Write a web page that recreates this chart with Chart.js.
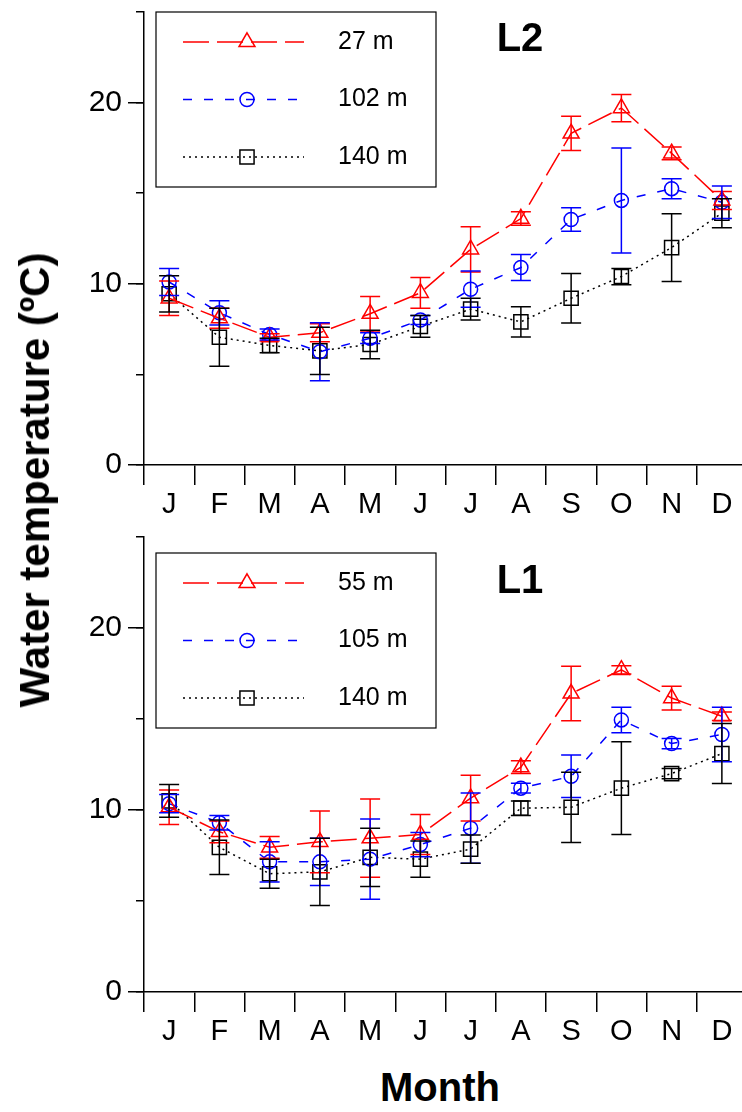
<!DOCTYPE html>
<html>
<head>
<meta charset="utf-8">
<title>Water temperature</title>
<script src="https://cdn.jsdelivr.net/npm/chart.js@4.4.1/dist/chart.umd.min.js"></script>
<style>
  html, body { margin: 0; padding: 0; background: #fff; overflow: hidden; }
  body { width: 742px; height: 1112px; position: relative; font-family: "Liberation Sans", Arial, sans-serif; }
  canvas { position: absolute; left: 0; }
  #chartL2 { top: 0; }
  #chartL1 { top: 525px; }
  .ytitle {
    position: absolute; left: 35px; top: 480px;
    transform: translate(-50%, -50%) rotate(-90deg);
    font-weight: bold; font-size: 42px; white-space: nowrap;
  }
  .xtitle {
    position: absolute; left: 440px; top: 1087px;
    transform: translate(-50%, -50%);
    font-weight: bold; font-size: 40px; white-space: nowrap;
  }
</style>
</head>
<body>
<canvas id="chartL2" width="760" height="530"></canvas>
<canvas id="chartL1" width="760" height="532"></canvas>
<div class="ytitle">Water temperature (ºC)</div>
<div class="xtitle">Month</div>

<script>
// months on the x axis
const months = ["J", "F", "M", "A", "M", "J", "J", "A", "S", "O", "N", "D"];

// station L2: monthly mean and standard deviation per depth (ºC)
const l2Depths = ["27 m", "102 m", "140 m"];
const l2Mean27 = [9.2, 8.1, 7.05, 7.3, 8.35, 9.5, 11.9, 13.6, 18.3, 19.7, 17.2, 14.6];
const l2Sd27 = [0.95, 0.55, 0.2, 0.5, 0.95, 0.85, 1.25, 0.37, 0.95, 0.75, 0.35, 0.5];
const l2Mean102 = [10.1, 8.4, 7.2, 6.25, 7.0, 8.0, 9.7, 10.9, 13.55, 14.6, 15.25, 14.5];
const l2Sd102 = [0.75, 0.67, 0.3, 1.6, 0.3, 0.25, 1.0, 0.72, 0.65, 2.9, 0.55, 0.9];
const l2Mean140 = [9.45, 7.05, 6.6, 6.3, 6.65, 7.65, 8.6, 7.9, 9.2, 10.4, 12.0, 13.9];
const l2Sd140 = [1.0, 1.6, 0.4, 1.3, 0.78, 0.6, 0.6, 0.83, 1.37, 0.45, 1.87, 0.8];

// station L1
const l1Depths = ["55 m", "105 m", "140 m"];
const l1Mean55 = [10.15, 8.8, 7.95, 8.25, 8.45, 8.65, 10.65, 12.35, 16.4, 17.7, 16.15, 15.15];
const l1Sd55 = [0.95, 0.6, 0.6, 1.7, 2.15, 1.1, 1.26, 0.35, 1.5, 0.23, 0.65, 0.23];
const l1Mean105 = [10.35, 9.3, 7.15, 7.15, 7.3, 8.1, 9.0, 11.2, 11.85, 14.95, 13.65, 14.15];
const l1Sd105 = [0.5, 0.4, 1.1, 1.3, 2.2, 0.67, 1.93, 0.27, 1.17, 0.7, 0.28, 1.5];
const l1Mean140 = [10.5, 7.95, 6.5, 6.6, 7.4, 7.3, 7.85, 10.1, 10.15, 11.2, 12.0, 13.1];
const l1Sd140 = [0.9, 1.5, 0.8, 1.85, 1.6, 1.0, 0.78, 0.4, 1.93, 2.55, 0.28, 1.65];

// y axis range and ticks
const yMin = 0;
const yMax = 25;
const yMajorStep = 10;
const yMinorStep = 5;

const FONT = "'Liberation Sans', Arial, sans-serif";

// shallow / middle / deep styling
const seriesStyle = [
  { color: "#ff0000", dash: [26, 8], point: "triangle", radius: 9.2 },
  { color: "#0000ff", dash: [9, 12], point: "circle", radius: 7 },
  { color: "#000000", dash: [2, 4], point: "rect", radius: 10 }
];

/**
 * Vertical error bars with caps (mean ± sd)
 */
const errorBars = {
  id: "errorBars",
  afterDatasetsDraw(chart, args, opts) {
    const { ctx } = chart;
    const y = chart.scales.y;
    chart.data.datasets.forEach((ds, i) => {
      const meta = chart.getDatasetMeta(i);
      ctx.save();
      ctx.strokeStyle = ds.borderColor;
      ctx.lineWidth = opts.width;
      ctx.setLineDash([]);
      meta.data.forEach((pt, j) => {
        const top = y.getPixelForValue(ds.data[j] + ds.sd[j]);
        const bot = y.getPixelForValue(ds.data[j] - ds.sd[j]);
        ctx.beginPath();
        ctx.moveTo(pt.x, top);
        ctx.lineTo(pt.x, bot);
        ctx.moveTo(pt.x - opts.cap, top);
        ctx.lineTo(pt.x + opts.cap, top);
        ctx.moveTo(pt.x - opts.cap, bot);
        ctx.lineTo(pt.x + opts.cap, bot);
        ctx.stroke();
      });
      ctx.restore();
    });
  }
};

/**
 * Boxed legend (line + marker + depth) and station tag
 */
const boxLegend = {
  id: "boxLegend",
  afterDraw(chart, args, o) {
    const { ctx } = chart;
    ctx.save();
    ctx.strokeStyle = "#000";
    ctx.lineWidth = 1.2;
    ctx.setLineDash([]);
    ctx.strokeRect(o.x, o.y, o.w, o.h);

    ctx.font = `25px ${FONT}`;
    ctx.textBaseline = "middle";
    ctx.textAlign = "left";
    chart.data.datasets.forEach((ds, i) => {
      const rowY = o.y + o.first + i * o.step;
      ctx.strokeStyle = ds.borderColor;
      ctx.lineWidth = 1.5;
      ctx.setLineDash(ds.borderDash);
      ctx.beginPath();
      ctx.moveTo(o.lineX[0], rowY);
      ctx.lineTo(o.lineX[1], rowY);
      ctx.stroke();

      ctx.setLineDash([]);
      ctx.fillStyle = "rgba(0,0,0,0)";
      Chart.helpers.drawPoint(ctx, {
        pointStyle: ds.pointStyle,
        radius: ds.pointRadius,
        rotation: 0,
        borderWidth: 1.5
      }, o.markerX, rowY);

      ctx.fillStyle = "#000";
      ctx.fillText(ds.label, o.textX, rowY);
    });

    ctx.font = `bold 40px ${FONT}`;
    ctx.textAlign = "center";
    ctx.fillStyle = "#000";
    ctx.fillText(o.tag, o.tagX, o.tagY);
    ctx.restore();
  }
};

function makeDatasets(labels, means, sds) {
  return labels.map((label, i) => ({
    label: label,
    data: means[i],
    sd: sds[i],
    borderColor: seriesStyle[i].color,
    borderDash: seriesStyle[i].dash,
    borderWidth: 1.5,
    tension: 0,
    fill: false,
    pointStyle: seriesStyle[i].point,
    pointRadius: seriesStyle[i].radius,
    pointBorderWidth: 1.5,
    pointBorderColor: seriesStyle[i].color,
    pointBackgroundColor: "rgba(0,0,0,0)"
  }));
}

function panel(canvasId, tag, labels, means, sds, legendY, tagY) {
  const ctx = document.getElementById(canvasId).getContext("2d");

  return new Chart(ctx, {
    type: "line",
    data: { labels: months, datasets: makeDatasets(labels, means, sds) },
    plugins: [errorBars, boxLegend],
    options: {
      responsive: false,
      animation: false,
      layout: { padding: { top: 12, right: 13, bottom: 0, left: 0 } },
      plugins: {
        legend: { display: false },
        tooltip: { enabled: false },
        errorBars: { width: 1.5, cap: 10 },
        boxLegend: {
          x: 156, y: legendY, w: 280, h: 175,
          first: 30, step: 57.5,
          lineX: [183, 304], markerX: 247, textX: 338,
          tag: tag, tagX: 520, tagY: tagY
        }
      },
      scales: {
        x: {
          type: "category",
          offset: true,
          grid: { offset: true, drawOnChartArea: false, tickLength: 20, color: "#000", lineWidth: 1.5 },
          border: { color: "#000", width: 1.5 },
          ticks: { color: "#000", font: { size: 29, family: FONT }, padding: 3, maxRotation: 0, autoSkip: false },
          afterFit: s => { s.height = 65; }
        },
        y: {
          min: yMin, max: yMax,
          weight: 2,
          grid: { drawOnChartArea: false, tickLength: 16, color: "#000", lineWidth: 1.5 },
          border: { color: "#000", width: 1.5 },
          ticks: { stepSize: yMajorStep, color: "#000", font: { size: 30, family: FONT }, padding: 6 },
          afterBuildTicks: s => { s.ticks = s.ticks.filter(t => t.value % yMajorStep === 0); },
          afterFit: s => { s.width = 144; s.paddingTop = 0; s.paddingBottom = 0; }
        },
        yMinor: {
          min: yMin, max: yMax,
          position: "left",
          weight: 1,
          grid: { drawOnChartArea: false, tickLength: 8, color: "#000", lineWidth: 1.5 },
          border: { display: false },
          ticks: { stepSize: yMinorStep, display: false },
          afterFit: s => { s.width = 0; s.paddingTop = 0; s.paddingBottom = 0; }
        }
      }
    }
  });
}

panel("chartL2", "L2", l2Depths,
  [l2Mean27, l2Mean102, l2Mean140], [l2Sd27, l2Sd102, l2Sd140], 12, 40);
panel("chartL1", "L1", l1Depths,
  [l1Mean55, l1Mean105, l1Mean140], [l1Sd55, l1Sd105, l1Sd140], 28, 57);
</script>
</body>
</html>
